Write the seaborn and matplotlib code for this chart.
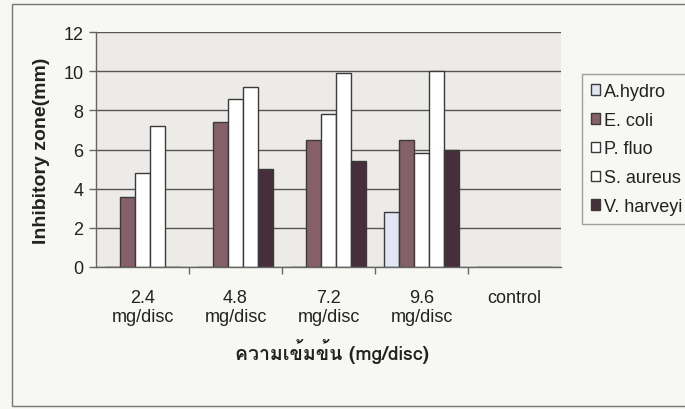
import numpy as np
import pandas as pd
import matplotlib
matplotlib.use("Agg")
import matplotlib.pyplot as plt
import seaborn as sns
from matplotlib import font_manager
from matplotlib.ft2font import FT2Font
from matplotlib.patches import Rectangle

# ---- data ----
categories = ["2.4\nmg/disc", "4.8\nmg/disc", "7.2\nmg/disc", "9.6\nmg/disc", "control"]
series = ["A.hydro", "E. coli", "P. fluo", "S. aureus", "V. harveyi"]
a_hydro = [0, 0, 0, 2.8, 0]
e_coli = [3.6, 7.4, 6.5, 6.5, 0]
p_fluo = [4.8, 8.6, 7.8, 5.8, 0]
s_aureus = [7.2, 9.2, 9.9, 10.0, 0]
v_harveyi = [0, 5.0, 5.4, 6.0, 0]
y_ticks = [0, 2, 4, 6, 8, 10, 12]
colors = ["#dfe5f5", "#8c5a66", "#ffffff", "#ffffff", "#4a2b3b"]

rows = []
for name, vals in zip(series, [a_hydro, e_coli, p_fluo, s_aureus, v_harveyi]):
    for c, v in zip(categories, vals):
        rows.append({"conc": c, "bacteria": name, "zone": v})
df = pd.DataFrame(rows)

# ---- fonts ----
sns.set_style("white")
plt.rcParams["font.family"] = ["Liberation Sans", "DejaVu Sans"]

thai_font = None
for f in font_manager.fontManager.ttflist:
    try:
        ft = FT2Font(f.fname)
        if ft.get_char_index(ord("ค")) and ft.get_char_index(ord("m")):
            thai_font = f.name
            break
    except Exception:
        pass
thai_family = [thai_font, "Liberation Sans", "DejaVu Sans"] if thai_font else ["Liberation Sans", "DejaVu Sans"]

W, H = 685, 410
fig = plt.figure(figsize=(W / 100, H / 100), dpi=100)
fig.patch.set_facecolor("#f7f7f4")
ax = fig.add_axes([96 / W, 1 - 268 / H, (561 - 96) / W, (268 - 33) / H])
ax.set_facecolor("#ecebe7")

sns.barplot(data=df, x="conc", y="zone", hue="bacteria", hue_order=series,
            order=categories, palette=colors, width=0.8, ax=ax,
            edgecolor="#3a3a3a", linewidth=1.0, errorbar=None, legend=True)

ax.set_ylim(0, 12)
ax.set_yticks(y_ticks)
ax.set_xlim(-0.5, len(categories) - 0.5)
ax.yaxis.grid(True, color="#555555", linewidth=1.0)
ax.set_axisbelow(True)
for s in ["top", "right"]:
    ax.spines[s].set_visible(False)
for s in ["left", "bottom"]:
    ax.spines[s].set_color("#666666")
    ax.spines[s].set_linewidth(1.0)

ax.tick_params(axis="y", length=5, width=1, color="#666666", labelsize=13, pad=4,
               left=True, labelcolor="#222222")
ax.tick_params(axis="x", which="major", length=0, labelsize=13, pad=16, labelcolor="#222222")
ax.set_xticks(np.arange(len(categories) - 1) + 0.5, minor=True)
ax.tick_params(axis="x", which="minor", length=5, width=1, color="#666666", bottom=True)
for lab in ax.get_xticklabels():
    lab.set_linespacing(1.15)

ax.set_ylabel("")
ax.set_xlabel("")
fig.text(42 / W, 1 - 151 / H, "Inhibitory zone(mm)", rotation=90, ha="center", va="center",
         fontsize=14, fontweight="bold", color="#222222")
fig.text(332 / W, 1 - 352 / H, "ความเข้มข้น (mg/disc)", ha="center", va="center",
         fontsize=14, fontweight="bold", family=thai_family, color="#222222")

leg = ax.legend(loc="upper left", bbox_to_anchor=(582 / W, 1 - 75 / H),
                bbox_transform=fig.transFigure, frameon=True, fontsize=13,
                handlelength=0.5, handleheight=0.5, handletextpad=0.2,
                labelspacing=0.65, borderpad=0.5, borderaxespad=0,
                fancybox=False, title=None)
leg.get_frame().set_edgecolor("#888888")
leg.get_frame().set_facecolor("#f7f7f4")
leg.get_frame().set_linewidth(1.0)
for t in leg.get_texts():
    t.set_color("#222222")

fig.patches.append(Rectangle((12 / W, 1 - 407 / H), 1.0, (407 - 5) / H,
                             transform=fig.transFigure, fill=False,
                             edgecolor="#777777", linewidth=1.0, zorder=0))

fig.savefig("out.png", dpi=100, facecolor=fig.get_facecolor())
